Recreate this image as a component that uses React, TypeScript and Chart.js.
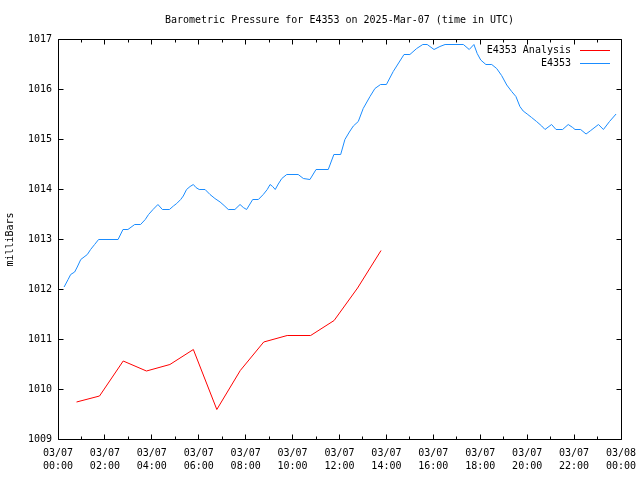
import React, { useEffect, useRef } from "react";
import { Chart, registerables } from "chart.js";

Chart.register(...registerables);

const TITLE = "Barometric Pressure for E4353 on 2025-Mar-07 (time in UTC)";
const Y_TITLE = "milliBars";

// hours since 2025-03-07 00:00 UTC
const stationHours = [
  0.26, 0.43, 0.54, 0.71, 0.82, 0.97, 1.11, 1.25, 1.39, 1.56, 1.73, 2.56, 2.77, 2.98, 3.27, 3.52,
  3.72, 3.86, 4.05, 4.26, 4.45, 4.75, 4.92, 5.06, 5.23, 5.34, 5.48, 5.63, 5.77, 5.88, 6.02, 6.27,
  6.48, 6.69, 6.91, 7.08, 7.26, 7.54, 7.76, 7.9, 8.04, 8.3, 8.54, 8.75, 8.92, 9.04, 9.15, 9.26,
  9.39, 9.54, 9.75, 10.24, 10.46, 10.74, 11.0, 11.52, 11.76, 12.05, 12.23, 12.42, 12.59, 12.8,
  13.01, 13.3, 13.51, 13.75, 14.0, 14.29, 14.75, 15.0, 15.29, 15.55, 15.74, 16.03, 16.28, 16.5,
  17.28, 17.53, 17.73, 17.87, 18.02, 18.24, 18.49, 18.7, 18.91, 19.13, 19.34, 19.52, 19.69, 19.83,
  20.0, 20.19, 20.4, 20.62, 20.76, 21.04, 21.23, 21.51, 21.75, 21.94, 22.04, 22.28, 22.51, 22.71,
  23.04, 23.25, 23.51, 23.79,
];
const stationPressure = [
  1012.05, 1012.2, 1012.3, 1012.35, 1012.45, 1012.6, 1012.65, 1012.7, 1012.8, 1012.9, 1013.0,
  1013.0, 1013.2, 1013.2, 1013.3, 1013.3, 1013.4, 1013.5, 1013.6, 1013.7, 1013.6, 1013.6, 1013.67,
  1013.72, 1013.8, 1013.87, 1014.0, 1014.06, 1014.1, 1014.04, 1014.0, 1014.0, 1013.9, 1013.82,
  1013.75, 1013.68, 1013.6, 1013.6, 1013.7, 1013.64, 1013.6, 1013.8, 1013.8, 1013.9, 1014.0,
  1014.1, 1014.06, 1014.0, 1014.11, 1014.22, 1014.3, 1014.3, 1014.22, 1014.2, 1014.4, 1014.4,
  1014.7, 1014.7, 1015.0, 1015.15, 1015.27, 1015.36, 1015.62, 1015.86, 1016.02, 1016.1, 1016.1,
  1016.36, 1016.7, 1016.7, 1016.82, 1016.9, 1016.9, 1016.8, 1016.86, 1016.9, 1016.9, 1016.8,
  1016.9, 1016.72, 1016.59, 1016.5, 1016.5, 1016.42, 1016.28, 1016.09, 1015.96, 1015.86, 1015.66,
  1015.57, 1015.51, 1015.44, 1015.36, 1015.27, 1015.2, 1015.3, 1015.2, 1015.2, 1015.3, 1015.24,
  1015.2, 1015.2, 1015.11, 1015.18, 1015.3, 1015.2, 1015.36, 1015.51,
];

const analysisHours = [0.79, 1.77, 2.78, 3.77, 4.77, 5.77, 6.77, 7.77, 8.77, 9.77, 10.77, 11.77, 12.77, 13.77];
const analysisPressure = [
  1009.75, 1009.87, 1010.57, 1010.37, 1010.5, 1010.8, 1009.6, 1010.38, 1010.95, 1011.08, 1011.08,
  1011.38, 1012.03, 1012.78,
];

const xTickDates = ["03/07", "03/07", "03/07", "03/07", "03/07", "03/07", "03/07", "03/07", "03/07", "03/07", "03/07", "03/07", "03/08"];
const xTickTimes = ["00:00", "02:00", "04:00", "06:00", "08:00", "10:00", "12:00", "14:00", "16:00", "18:00", "20:00", "22:00", "00:00"];

const FONT = "'DejaVu Sans Mono', 'Liberation Mono', monospace";
const RED = "#ff0000";
const BLUE = "#1a8cff";

const framePlugin = {
  id: "gnuFrame",
  afterDraw(chart: any) {
    const { ctx, chartArea } = chart;
    const xs = chart.scales.x;
    const ys = chart.scales.y;
    const L = Math.floor(chartArea.left) + 0.5;
    const R = Math.floor(chartArea.right) + 0.5;
    const T = Math.floor(chartArea.top) + 0.5;
    const B = Math.floor(chartArea.bottom) + 0.5;
    ctx.save();
    ctx.strokeStyle = "#000";
    ctx.lineWidth = 1;
    ctx.beginPath();
    ctx.rect(L, T, R - L, B - T);
    for (let h = 0; h <= 24; h++) {
      const px = Math.floor(xs.getPixelForValue(h)) + 0.5;
      const len = h % 2 === 0 ? 5 : 3;
      ctx.moveTo(px, B);
      ctx.lineTo(px, B - len);
      ctx.moveTo(px, T);
      ctx.lineTo(px, T + len);
    }
    for (let v = 1009; v <= 1017; v++) {
      const py = Math.floor(ys.getPixelForValue(v)) + 0.5;
      ctx.moveTo(L, py);
      ctx.lineTo(L + 5, py);
      ctx.moveTo(R, py);
      ctx.lineTo(R - 5, py);
    }
    ctx.stroke();

    // legend (gnuplot style: right-aligned text, sample line to the right)
    ctx.font = `10px ${FONT}`;
    ctx.textAlign = "right";
    ctx.textBaseline = "middle";
    chart.data.datasets.forEach((ds: any, i: number) => {
      const y = 50.5 + i * 12.5;
      ctx.fillStyle = "#000";
      ctx.fillText(ds.label, 571, y);
      ctx.strokeStyle = ds.borderColor;
      ctx.beginPath();
      ctx.moveTo(580, Math.floor(y) + 0.5);
      ctx.lineTo(610, Math.floor(y) + 0.5);
      ctx.stroke();
    });
    ctx.restore();
  },
};

export default function App() {
  const canvasRef = useRef<HTMLCanvasElement | null>(null);

  useEffect(() => {
    const canvas = canvasRef.current;
    if (!canvas) return;
    const chart = new Chart(canvas, {
      type: "line",
      data: {
        datasets: [
          {
            label: "E4353 Analysis",
            data: analysisHours.map((h, i) => ({ x: h, y: analysisPressure[i] })),
            borderColor: RED,
            backgroundColor: RED,
            borderWidth: 1,
            pointRadius: 0,
            tension: 0,
          },
          {
            label: "E4353",
            data: stationHours.map((h, i) => ({ x: h, y: stationPressure[i] })),
            borderColor: BLUE,
            backgroundColor: BLUE,
            borderWidth: 1,
            pointRadius: 0,
            tension: 0,
          },
        ],
      },
      options: {
        responsive: false,
        animation: false,
        events: [],
        layout: { padding: { left: 0, right: 19, top: 0, bottom: 0 } },
        plugins: {
          legend: { display: false },
          tooltip: { enabled: false },
          title: {
            display: true,
            text: TITLE,
            fullSize: false,
            color: "#000",
            font: { family: FONT, size: 10, weight: "normal", lineHeight: 1.2 },
            padding: { top: 14, bottom: 13.5 },
          },
        },
        scales: {
          x: {
            type: "linear",
            min: 0,
            max: 24,
            grid: { display: false, drawTicks: false },
            border: { display: false },
            ticks: {
              stepSize: 2,
              autoSkip: false,
              maxRotation: 0,
              color: "#000",
              padding: 7,
              font: { family: FONT, size: 10, lineHeight: 1.3 },
              callback: (v: any) => {
                const i = Math.round(Number(v) / 2);
                return [xTickDates[i], xTickTimes[i]];
              },
            },
            afterFit: (s: any) => {
              s.height = 40.5;
              s.paddingLeft = 0;
              s.paddingRight = 0;
            },
          },
          y: {
            type: "linear",
            min: 1009,
            max: 1017,
            grid: { display: false, drawTicks: false },
            border: { display: false },
            ticks: {
              stepSize: 1,
              color: "#000",
              padding: 6,
              font: { family: FONT, size: 10 },
              callback: (v: any) => String(v),
            },
            title: {
              display: true,
              text: Y_TITLE,
              color: "#000",
              font: { family: FONT, size: 10, lineHeight: 1.2 },
              padding: { top: 4, bottom: 0 },
            },
            afterFit: (s: any) => {
              s.width = 58;
              s.paddingTop = 0;
              s.paddingBottom = 0;
            },
          },
        },
      },
      plugins: [framePlugin],
    } as any);
    return () => chart.destroy();
  }, []);

  return (
    <div style={{ position: "fixed", left: 0, top: 0, width: 640, height: 480, background: "#fff" }}>
      <canvas ref={canvasRef} width={640} height={480} style={{ display: "block" }} />
    </div>
  );
}
